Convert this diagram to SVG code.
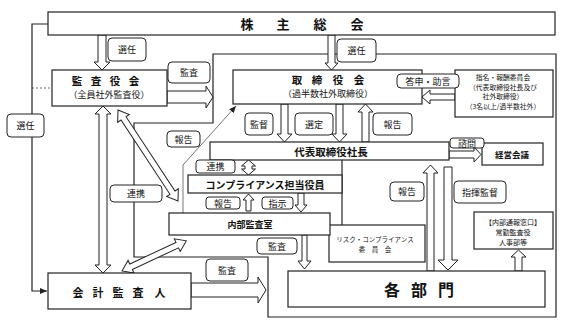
<svg xmlns="http://www.w3.org/2000/svg" width="567" height="330" viewBox="0 0 567 330">
<defs>
<style>
.box{fill:#fff;stroke:#222;stroke-width:1.2}
.lbl{fill:#fff;stroke:#222;stroke-width:1}
.arr{fill:#fff;stroke:#222;stroke-width:1}
.ln{fill:none;stroke:#222;stroke-width:1.2}
.thin{fill:none;stroke:#555;stroke-width:0.8}
text{font-family:"Noto Sans CJK JP","Noto Sans",sans-serif;fill:#111;text-anchor:middle;dominant-baseline:central}
.t{font-size:9px}
.b{font-weight:700}
</style>
<marker id="ah" markerWidth="8" markerHeight="8" refX="7" refY="4" orient="auto" markerUnits="userSpaceOnUse">
<path d="M0,1 L7,4 L0,7 Z" fill="#222"/>
</marker>
</defs>
<rect width="567" height="330" fill="#fff"/>

<g id="frame">
<polygon class="ln" points="213,54 556,54 556,317 268,317 268,257 134,257 134,123 213,123"/>
</g>

<g id="connectors">
<polyline class="ln" points="48,24 32,24 32,291 47,291" marker-end="url(#ah)"/>
<line x1="32" y1="88" x2="52" y2="88" stroke="#444" stroke-width="0.8" stroke-dasharray="2,2"/>
<line class="ln" x1="342" y1="160" x2="342" y2="225"/>
<polyline class="thin" points="183,213 183,165 236,106" marker-end="url(#ah)"/>
<polygon class="arr" points="98,35 106,35 106,62 110,62 102,70 94,62 98,62"/>
<polygon class="arr" points="328,35 335,35 335,63 338,63 331.5,70 325,63 328,63"/>
<polygon class="arr" points="167,91 206,91 206,86 213,97 206,108 206,103 167,103"/>
<polygon class="arr" points="103,106 111,114 107,114 107,265 111,265 103,273 95,265 99,265 99,114 95,114"/>
<g transform="translate(118,110) rotate(56.6)">
<polygon class="arr" points="0,0 10,-7 10,-3 99,-3 99,-7 109,0 99,7 99,3 10,3 10,7"/>
</g>
<g transform="translate(122,271) rotate(-25.1)">
<polygon class="arr" points="0,0 10,-7 10,-3 61,-3 61,-7 71,0 61,7 61,3 10,3 10,7"/>
</g>
<polygon class="arr" points="281,104 288,104 288,134 292,134 284.5,142 277,134 281,134"/>
<polygon class="arr" points="336,104 343,104 343,134 347,134 339.5,142 332,134 336,134"/>
<polygon class="arr" points="362,142 369,142 369,112 373,112 365.5,104 358,112 362,112"/>
<polygon class="arr" points="455,94 430,94 430,90 422,97 430,104 430,100 455,100"/>
<polygon class="arr" points="248.5,160 255.5,166 252,166 252,169 255.5,169 248.5,175 241.5,169 245,169 245,166 241.5,166"/>
<polygon class="arr" points="449,151 474,151 474,147 481,154.5 474,162 474,158 449,158"/>
<polygon class="arr" points="246,211 251,211 251,200 254,200 248.5,194 243,200 246,200"/>
<polygon class="arr" points="298,193 304,193 304,205 307,205 301,212 295,205 298,205"/>
<polygon class="arr" points="302,235 307,235 307,261 311,261 304.5,269 298,261 302,261"/>
<polygon class="arr" points="427,271 434,271 434,173 438,173 430.5,165 423,173 427,173"/>
<polygon class="arr" points="444,167 452,167 452,260 458,260 448,270 438,260 444,260"/>
<polygon class="arr" points="515,271 522,271 522,257 526,257 518.5,250 511,257 515,257"/>
<polygon class="arr" points="191,283 258,283 258,277 266,290 258,303 258,297 191,297"/>
</g>

<g id="shareholders">
<rect class="box" x="48" y="12" width="507" height="23"/>
<text class="b" font-size="13" x="247 283 320 357" y="23.5">株主総会</text>
</g>

<g id="auditors">
<rect class="box" x="52" y="70" width="115" height="36"/>
<text class="b" font-size="10.5" x="77 96 115 134" y="80.5">監査役会</text>
<text font-size="9" x="109" y="94.5">（全員社外監査役）</text>
</g>

<g id="board">
<rect class="box" x="233" y="70" width="189" height="34"/>
<text class="b" font-size="10.5" x="297 317 338 359" y="79.5">取締役会</text>
<text font-size="9" x="328" y="93">（過半数社外取締役）</text>
</g>

<g id="nomination">
<rect class="box" x="455" y="70" width="98" height="47"/>
<text font-size="6.8" x="503" y="76.5">指名・報酬委員会</text>
<text font-size="6.8" x="503" y="86.5">（代表取締役社長及び</text>
<text font-size="6.8" x="503" y="96">社外取締役）</text>
<text font-size="6.8" x="503" y="106">（3名以上/過半数社外）</text>
</g>

<g id="president">
<rect class="box" x="210" y="142" width="239" height="18"/>
<text class="b" font-size="10.5" x="331" y="151.5">代表取締役社長</text>
</g>

<g id="mgmt">
<rect class="box" x="482" y="143" width="61" height="22"/>
<text class="b" font-size="8.5" x="512" y="154">経営会議</text>
</g>

<g id="compliance">
<rect class="box" x="188" y="175" width="154" height="18"/>
<text class="b" font-size="10" x="265" y="184">コンプライアンス担当役員</text>
</g>

<g id="risk">
<rect class="box" x="329" y="225" width="96" height="37"/>
<text font-size="6.5" x="375" y="238.5">リスク・コンプライアンス</text>
<text font-size="6.5" x="375" y="248.5">委　員　会</text>
</g>

<g id="internal-audit">
<rect class="box" x="169" y="213" width="161" height="22"/>
<text class="b" font-size="9" x="250" y="224.5">内部監査室</text>
</g>

<g id="accounting-auditor">
<rect class="box" x="48" y="273" width="143" height="36"/>
<text class="b" font-size="11" x="78 98 118 138 160" y="292">会計監査人</text>
</g>

<g id="departments">
<rect class="box" x="288" y="271" width="257" height="36"/>
<text class="b" font-size="16" x="392 419 446" y="289">各部門</text>
</g>

<g id="whistle">
<rect class="box" x="474" y="212" width="79" height="37"/>
<text font-size="7" x="513" y="221.5">【内部通報窓口】</text>
<text font-size="7" x="513" y="231.5">常勤監査役</text>
<text font-size="7" x="513" y="241.5">人事部等</text>
</g>

<g id="labels">
<rect class="lbl" x="108" y="38" width="38" height="23" rx="4"/><text class="t" font-size="10" x="127" y="49.5">選任</text>
<rect class="lbl" x="337" y="39" width="39" height="23" rx="4"/><text class="t" font-size="10" x="356.5" y="50.5">選任</text>
<rect class="lbl" x="7" y="114" width="37" height="23" rx="4"/><text class="t" font-size="10" x="25.5" y="125.5">選任</text>
<rect class="lbl" x="168" y="62" width="42" height="21" rx="4"/><text class="t" x="189" y="72.5">監査</text>
<rect class="lbl" x="167" y="131" width="33" height="16" rx="4"/><text class="t" font-size="7.5" x="183.5" y="139">報告</text>
<rect class="lbl" x="110" y="185" width="52" height="17" rx="4"/><text class="t" x="136" y="193.5">連携</text>
<rect class="lbl" x="245" y="113" width="28" height="22" rx="4"/><text class="t" x="259" y="124">監督</text>
<rect class="lbl" x="295" y="113" width="38" height="22" rx="4"/><text class="t" x="314" y="124">選定</text>
<rect class="lbl" x="373" y="113" width="39" height="22" rx="4"/><text class="t" x="392.5" y="124">報告</text>
<rect class="lbl" x="397" y="74" width="62" height="14" rx="4"/><text class="t" font-size="8" x="428" y="81">答申・助言</text>
<rect class="lbl" x="450" y="138" width="34" height="10" rx="3"/><text class="t" font-size="7" x="467" y="143">諮問</text>
<rect class="lbl" x="196" y="160" width="39" height="13" rx="3"/><text class="t" font-size="8" x="215.5" y="166.5">連携</text>
<rect class="lbl" x="206" y="197" width="34" height="12" rx="3"/><text class="t" font-size="7" x="223" y="203">報告</text>
<rect class="lbl" x="262" y="197" width="31" height="12" rx="3"/><text class="t" font-size="7" x="277.5" y="203">指示</text>
<rect class="lbl" x="390" y="182" width="34" height="19" rx="4"/><text class="t" font-size="8" x="407" y="191.5">報告</text>
<rect class="lbl" x="454" y="181" width="52" height="22" rx="4"/><text class="t" x="480" y="192">指揮監督</text>
<rect class="lbl" x="257" y="238" width="40" height="16" rx="4"/><text class="t" x="277" y="246">監査</text>
<rect class="lbl" x="206" y="259" width="42" height="22" rx="4"/><text class="t" x="227" y="270">監査</text>
</g>
</svg>
